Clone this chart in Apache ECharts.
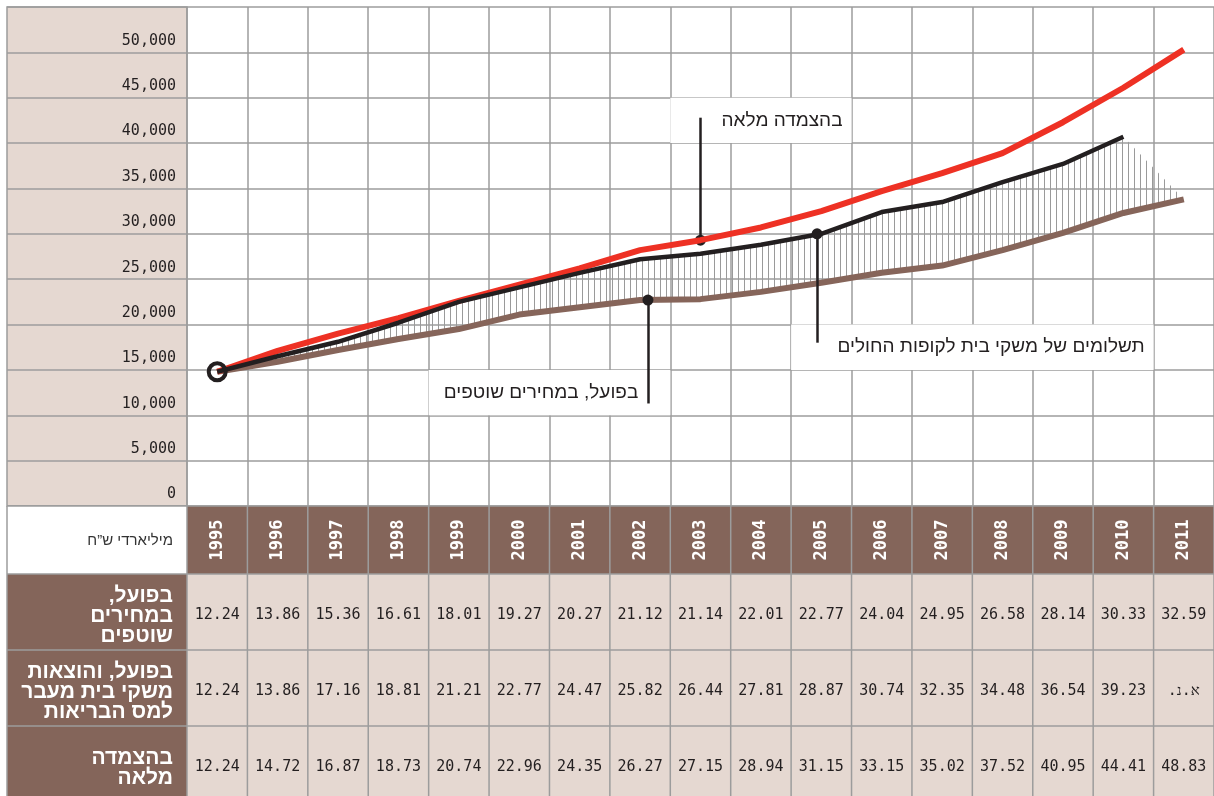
<!DOCTYPE html>
<html><head><meta charset="utf-8">
<script src="https://cdn.jsdelivr.net/npm/echarts@6/dist/echarts.min.js"></script>
<style>html,body{margin:0;padding:0;background:#fff}#c{width:1214px;height:796px;direction:rtl}</style>
</head><body><div id="c"></div>
<script>
// ---------- data ----------
const years = ['1995','1996','1997','1998','1999','2000','2001','2002','2003','2004','2005','2006','2007','2008','2009','2010','2011'];
// chart lines (millions NIS)
const lineActual   = [14800,15900,17200,18400,19500,21100,21900,22700,22800,23600,24600,25700,26500,28200,30100,32300,33800];
const lineWithTax  = [14800,16500,18100,20200,22500,24100,25700,27200,27800,28800,30000,32400,33500,35700,37700,40700,null];
const lineIndexed  = [14800,17100,19000,20700,22600,24400,26200,28200,29300,30700,32500,34700,36700,38900,42300,46100,50300];
// table (billions NIS)
const tableActual  = [12.24,13.86,15.36,16.61,18.01,19.27,20.27,21.12,21.14,22.01,22.77,24.04,24.95,26.58,28.14,30.33,32.59];
const tableWithTax = [12.24,13.86,17.16,18.81,21.21,22.77,24.47,25.82,26.44,27.81,28.87,30.74,32.35,34.48,36.54,39.23,null];
const tableIndexed = [12.24,14.72,16.87,18.73,20.74,22.96,24.35,26.27,27.15,28.94,31.15,33.15,35.02,37.52,40.95,44.41,48.83];
const noDataLabel = 'א.נ.\u200F';
const unitLabel = 'מיליארדי ש”ח';
const rowLabels = ['בפועל,\u200F\nבמחירים\nשוטפים', 'בפועל, והוצאות\nמשקי בית מעבר\nלמס הבריאות', 'בהצמדה\nמלאה'];
const labelIndexed = 'בהצמדה מלאה';
const labelActual = 'בפועל, במחירים שוטפים';
const labelWithTax = 'תשלומים של משקי בית לקופות החולים';

// ---------- style ----------
const BROWN = '#84655a', BEIGE = '#e5d8d1', GRID = '#9c9c9c', INK = '#231f20', RED = '#ee3124', LINEBROWN = '#86655a';
const HEB = '"Liberation Sans","DejaVu Sans",sans-serif';
const MONO = '"DejaVu Sans Mono",monospace';

const pts = arr => arr.map((v, i) => [i + 0.5, v]);
// top of the hatched band: the black line, closing onto the brown line where it ends
const hatchTop = lineWithTax.map((v, i) => v == null ? lineActual[i] : v);

const pat = document.createElement('canvas'); pat.width = 6; pat.height = 4;
const pc = pat.getContext('2d'); pc.fillStyle = '#9a9a9a'; pc.fillRect(0, 0, 1, 4);

const chart = echarts.init(document.getElementById('c'), null, {renderer: 'canvas'});
const annLabel = (d) => ({show: true, position: 'insideRight', distance: d, color: INK, fontSize: 19, fontFamily: HEB, formatter: '{b}'});
const leader = (x, y1, y2) => ({silent: true, symbol: ['circle', 'none'], symbolSize: 11, label: {show: false},
  lineStyle: {color: INK, width: 2.5, type: 'solid'}, data: [[{coord: [x, y1]}, {coord: [x, y2]}]]});

chart.setOption({
  animation: false,
  backgroundColor: '#fff',
  grid: [
    {left: 187, top: 7, right: 0, bottom: 290},
    {left: 7, top: 7, width: 180, bottom: 290, show: true, backgroundColor: BEIGE, borderColor: GRID, borderWidth: 1.5}
  ],
  xAxis: [
    {type: 'value', gridIndex: 0, min: 0, max: years.length, interval: 1,
     axisLabel: {show: false}, axisLine: {show: false}, axisTick: {show: false},
     splitLine: {show: true, lineStyle: {color: GRID, width: 1.5}}},
    {type: 'value', gridIndex: 1, min: 0, max: 1, show: false}
  ],
  yAxis: [
    {type: 'value', gridIndex: 0, min: 0, max: 55000, interval: 5000,
     axisLabel: {show: false}, axisLine: {show: false}, axisTick: {show: false},
     splitLine: {show: true, lineStyle: {color: GRID, width: 1.5}}},
    {type: 'value', gridIndex: 1, min: 0, max: 55000, interval: 5000, position: 'right',
     axisLine: {show: false}, axisTick: {show: false},
     splitLine: {show: true, lineStyle: {color: GRID, width: 1.5}},
     axisLabel: {inside: true, margin: 11, verticalAlign: 'bottom', padding: [0, 0, 4, 0],
       fontFamily: MONO, fontSize: 15, color: INK,
       formatter: v => v >= 55000 ? '' : v.toLocaleString('en-US')}}
  ],
  series: [
    {name: 'boxes', type: 'line', data: pts(lineActual), symbol: 'none', z: 2,
     lineStyle: {opacity: 0}, silent: true,
     markArea: {silent: true, itemStyle: {color: '#fff'}, data: [
       [{name: labelIndexed, coord: [8, 40000], label: annLabel(9)}, {coord: [11, 45000]}],
       [{name: labelActual, coord: [4, 10000], label: annLabel(32)}, {coord: [8, 15000]}],
       [{name: labelWithTax, coord: [10, 15000], label: annLabel(9)}, {coord: [16, 20000]}]
     ]}
    },
    {name: 'hatch', type: 'custom', z: 3, silent: true,
     data: hatchTop.slice(0, -1).map((v, i) => [i + 0.5, v, lineActual[i]]),
     renderItem: (params, api) => {
       const i = params.dataIndex;
       const p = [api.coord([i + 0.5, hatchTop[i]]), api.coord([i + 1.5, hatchTop[i + 1]]),
                  api.coord([i + 1.5, lineActual[i + 1]]), api.coord([i + 0.5, lineActual[i]])];
       return {type: 'polygon', shape: {points: p}, style: {fill: {image: pat, repeat: 'repeat'}}};
     }},
    {name: 'actual', type: 'line', data: pts(lineActual), symbol: 'none', z: 4,
     lineStyle: {color: LINEBROWN, width: 6},
     markLine: leader(7.63, lineActual[7], 11300)},
    {name: 'indexed', type: 'line', data: pts(lineIndexed), symbol: 'none', z: 5,
     lineStyle: {color: RED, width: 6},
     markLine: leader(8.5, lineIndexed[8], 42800)},
    {name: 'withTax', type: 'line', data: pts(lineWithTax), symbol: 'none', z: 6,
     lineStyle: {color: INK, width: 4.5},
     markLine: leader(10.43, lineWithTax[10], 18000)},
    {name: 'start', type: 'scatter', data: [[0.5, lineWithTax[0]]], symbol: 'circle', symbolSize: 17, z: 7,
     itemStyle: {color: 'rgba(255,255,255,0)', borderColor: INK, borderWidth: 4, opacity: 1}}
  ]
});

// ---------- table below the chart ----------
const xs = [];
for (let k = 0; k <= years.length; k++) xs.push(chart.convertToPixel({xAxisIndex: 0}, k));
const top0 = chart.convertToPixel({yAxisIndex: 0}, 0);
const leftX = 7, labelRight = 173;
const rowTops = [top0, top0 + 68, top0 + 144, top0 + 220, top0 + 296];
const els = [];
els.push({type: 'rect', shape: {x: leftX, y: rowTops[0], width: xs[0] - leftX, height: rowTops[1] - rowTops[0]}, style: {fill: '#fff'}});
els.push({type: 'text', x: labelRight, y: (rowTops[0] + rowTops[1]) / 2 + 1, style: {text: unitLabel, align: 'right', verticalAlign: 'middle', fill: '#333', font: '15px ' + HEB}});
years.forEach((y, k) => {
  els.push({type: 'rect', shape: {x: xs[k], y: rowTops[0], width: xs[k + 1] - xs[k], height: rowTops[1] - rowTops[0]}, style: {fill: BROWN}});
  els.push({type: 'text', x: (xs[k] + xs[k + 1]) / 2, y: (rowTops[0] + rowTops[1]) / 2, rotation: Math.PI / 2,
    style: {text: y, align: 'center', verticalAlign: 'middle', fill: '#fff', font: 'bold 17px ' + MONO}});
});
const rows = [tableActual, tableWithTax, tableIndexed];
rows.forEach((arr, r) => {
  const t = rowTops[r + 1], b = rowTops[r + 2];
  els.push({type: 'rect', shape: {x: leftX, y: t, width: xs[0] - leftX, height: b - t}, style: {fill: BROWN}});
  els.push({type: 'text', x: labelRight, y: (t + b) / 2 + 4, style: {text: rowLabels[r], align: 'right', verticalAlign: 'middle', fill: '#fff', font: 'bold 21px ' + HEB, lineHeight: 20}});
  arr.forEach((v, k) => {
    els.push({type: 'rect', shape: {x: xs[k], y: t, width: xs[k + 1] - xs[k], height: b - t}, style: {fill: BEIGE}});
    els.push({type: 'text', x: (xs[k] + xs[k + 1]) / 2, y: (t + b) / 2 + 3,
      style: {text: v == null ? noDataLabel : v.toFixed(2), align: 'center', verticalAlign: 'middle', fill: INK, font: '15px ' + MONO}});
  });
});
const lineStyle = {stroke: GRID, lineWidth: 1.5};
for (let k = 0; k <= years.length; k++) els.push({type: 'line', shape: {x1: xs[k], y1: rowTops[0], x2: xs[k], y2: rowTops[4]}, style: lineStyle});
els.push({type: 'line', shape: {x1: leftX, y1: rowTops[0], x2: leftX, y2: rowTops[4]}, style: lineStyle});
for (let r = 0; r < 4; r++) els.push({type: 'line', shape: {x1: leftX, y1: rowTops[r], x2: xs[years.length], y2: rowTops[r]}, style: lineStyle});
chart.setOption({graphic: {elements: els}});
</script></body></html>
